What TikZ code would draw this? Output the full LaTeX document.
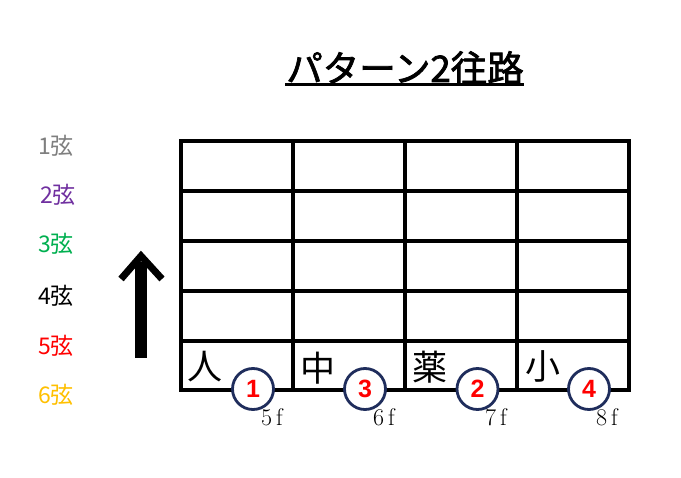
\documentclass[tikz,border=0pt]{standalone}
\usepackage{fontspec}
\newfontfamily\cjk{Noto Sans CJK JP}
\newfontfamily\cjkm[FakeBold=2]{Noto Sans CJK JP}
\newfontfamily\numfont{Liberation Sans}
\definecolor{navy}{HTML}{1F2D5C}
\definecolor{sgray}{HTML}{7F7F7F}
\definecolor{spurple}{HTML}{7030A0}
\definecolor{sgreen}{HTML}{00B050}
\definecolor{sorange}{HTML}{FFC000}
\begin{document}
\begin{tikzpicture}[x=1pt,y=-1pt,
  gridline/.style={line width=3.4pt},
  strlabel/.style={font=\cjk\fontsize{23}{23}\selectfont, inner sep=0pt},
  cellchar/.style={font=\cjk\fontsize{35}{35}\selectfont, inner sep=0pt},
  fingcirc/.style={circle, draw=navy, line width=2.8pt, fill=white, minimum size=41pt, inner sep=0pt, font=\numfont\bfseries\fontsize{25}{25}\selectfont, text=red},
  fretlabel/.style={font=\fontsize{24}{24}\selectfont, inner sep=0pt}]
\useasboundingbox (0,0) rectangle (681,478);
\fill[white] (0,0) rectangle (681,478);
% title
\node[font=\cjkm\fontsize{36.5}{36.5}\selectfont, inner sep=0pt] (title) at (405,68) {パターン2往路};
\draw[line width=2.7pt] (285,84.7) -- (524,84.7);
% string labels
\node[strlabel, text=sgray] (s1) at (56,146) {1弦};
\node[strlabel, text=spurple] (s2) at (58,195) {2弦};
\node[strlabel, text=sgreen] (s3) at (56,244) {3弦};
\node[strlabel, text=black] (s4) at (56,296) {4弦};
\node[strlabel, text=red] (s5) at (56,346) {5弦};
\node[strlabel, text=sorange] (s6) at (56,395) {6弦};
% arrow
\draw[line width=12pt] (141,358) -- (141,262);
\draw[line width=7pt, line join=miter] (121,279) -- (141,256) -- (162,279);
% grid
\draw[gridline] (181,141) rectangle (629,390);
\foreach \x in {293,405,517} \draw[gridline] (\x,141) -- (\x,390);
\foreach \y in {191,241,291,341} \draw[gridline] (181,\y) -- (629,\y);
% cell characters
\node[cellchar] (c1) at (205,367) {人};
\node[cellchar] (c2) at (318,368) {中};
\node[cellchar] (c3) at (430,367) {薬};
\node[cellchar] (c4) at (543,366) {小};
% finger circles
\node[fingcirc] (f1) at (253,389) {1};
\node[fingcirc] (f3) at (365,389) {3};
\node[fingcirc] (f2) at (477.5,389) {2};
\node[fingcirc] (f4) at (589,389) {4};
% fret labels
\node[fretlabel] (l5) at (272,417) {5\hspace{4pt}f};
\node[fretlabel] (l6) at (384,417) {6\hspace{4pt}f};
\node[fretlabel] (l7) at (496,417) {7\hspace{4pt}f};
\node[fretlabel] (l8) at (607,417) {8\hspace{4pt}f};
\end{tikzpicture}
\end{document}
